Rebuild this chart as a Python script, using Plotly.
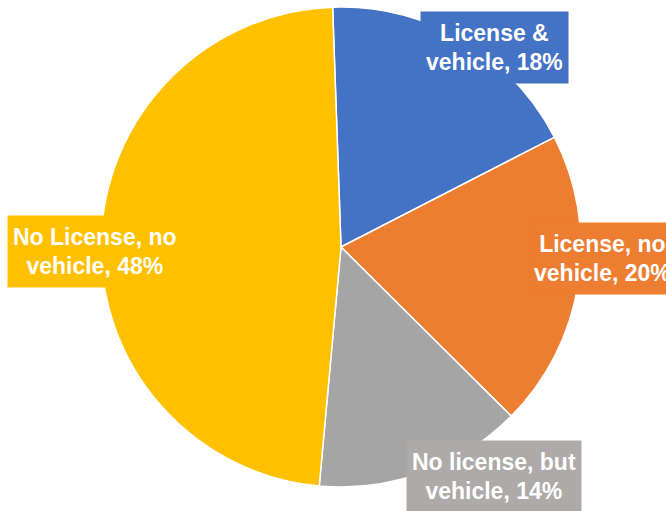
import plotly.graph_objects as go

categories = ["License & vehicle", "License, no vehicle", "No license, but vehicle", "No License, no vehicle"]
values = [18, 20, 14, 48]
slice_colors = ["#4472C4", "#ED7D31", "#A5A5A5", "#FFC000"]
box_colors = ["#4472C4", "#ED7D31", "#ADAAA9", "#FFC000"]

# label box centres (pixels, canvas 666x511)
W, H = 666, 511
label_pos = [(494.5, 47.5), (602, 258.5), (494, 476), (95, 251)]

fig = go.Figure()
fig.add_trace(go.Pie(
    labels=categories,
    values=values,
    sort=False,
    direction="clockwise",
    rotation=-2,
    marker=dict(colors=slice_colors, line=dict(color="white", width=1.5)),
    textinfo="none",
    hoverinfo="label+percent",
    domain=dict(x=[(341 - 240) / W, (341 + 240) / W], y=[1 - 487 / H, 1 - 7 / H]),
    showlegend=False,
))

for cat, v, col, (px, py) in zip(categories, values, box_colors, label_pos):
    first, last = cat.rsplit(" ", 1)
    txt = f"<b>{first}<br>{last}, {v}%</b>"
    fig.add_annotation(
        x=px / W, y=1 - py / H, xref="paper", yref="paper",
        xanchor="center", yanchor="middle",
        text=txt, showarrow=False, align="center",
        font=dict(family="Liberation Sans", size=23, color="white"),
        bgcolor=col, borderpad=5, height=61,
    )

fig.update_layout(
    width=W, height=H,
    margin=dict(l=0, r=0, t=0, b=0),
    paper_bgcolor="white",
    plot_bgcolor="white",
)

fig.write_html(
    "out.html",
    config={"displayModeBar": False},
    post_script="document.body.style.margin='0';document.body.style.overflow='hidden';",
)
